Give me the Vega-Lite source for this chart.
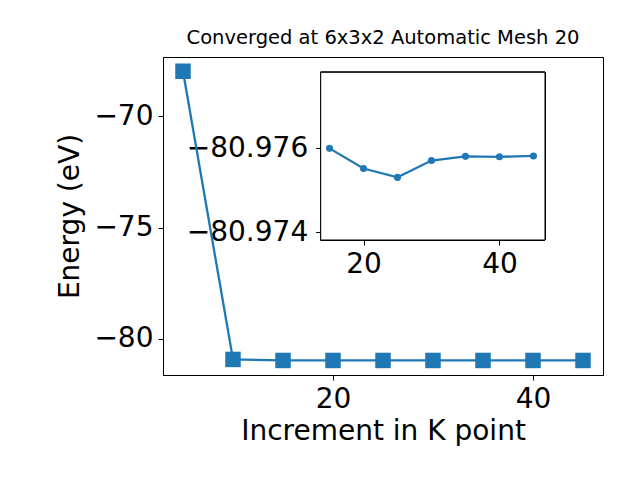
{
  "$schema": "https://vega.github.io/schema/vega-lite/v6.json",
  "width": 440,
  "height": 318,
  "autosize": {"type": "none"},
  "padding": {"left": 163, "top": 57, "right": 37, "bottom": 105},
  "background": "white",
  "title": {"text": "Converged at 6x3x2 Automatic Mesh 20", "fontSize": 19.5, "font": "DejaVu Sans", "fontWeight": "normal", "color": "black", "offset": 9},
  "datasets": {
    "main": [
      {"k": 5, "E": -67.97},
      {"k": 10, "E": -80.93},
      {"k": 15, "E": -80.976},
      {"k": 20, "E": -80.9755},
      {"k": 25, "E": -80.9753},
      {"k": 30, "E": -80.9757},
      {"k": 35, "E": -80.9758},
      {"k": 40, "E": -80.9758},
      {"k": 45, "E": -80.9758}
    ],
    "inset": [
      {"k": 15, "E": -80.97600},
      {"k": 20, "E": -80.97552},
      {"k": 25, "E": -80.97531},
      {"k": 30, "E": -80.97571},
      {"k": 35, "E": -80.97581},
      {"k": 40, "E": -80.97580},
      {"k": 45, "E": -80.97582}
    ]
  },
  "layer": [
    {
      "data": {"name": "main"},
      "encoding": {
        "x": {"field": "k", "type": "quantitative", "scale": {"domain": [3, 47], "nice": false, "zero": false},
              "axis": {"orient": "bottom", "values": [20, 40], "title": "Increment in K point", "labelFontSize": 28, "titleFontSize": 28, "titlePadding": 4}},
        "y": {"field": "E", "type": "quantitative", "scale": {"domain": [-81.63, -67.33], "nice": false, "zero": false},
              "axis": {"orient": "left", "values": [-80, -75, -70], "title": "Energy (eV)", "labelFontSize": 28, "titleFontSize": 28, "titlePadding": 9}}
      },
      "layer": [
        {"mark": {"type": "line", "color": "#1f77b4", "strokeWidth": 2.3}},
        {"mark": {"type": "point", "shape": "square", "filled": true, "opacity": 1, "color": "#1f77b4", "size": 240}}
      ]
    },
    {
      "data": {"name": "inset"},
      "layer": [
        {
          "mark": {"type": "rect", "fill": "white", "stroke": "black", "strokeWidth": 1},
          "encoding": {
            "x": {"datum": 13.7, "type": "quantitative"},
            "x2": {"datum": 46.7},
            "y": {"datum": -80.97781, "type": "quantitative"},
            "y2": {"datum": -80.97382}
          }
        },
        {
          "encoding": {
            "x": {"field": "k", "type": "quantitative"},
            "y": {"field": "E", "type": "quantitative"}
          },
          "layer": [
            {"mark": {"type": "line", "color": "#1f77b4", "strokeWidth": 2.3}},
            {"mark": {"type": "point", "shape": "circle", "filled": true, "opacity": 1, "color": "#1f77b4", "size": 50}}
          ]
        }
      ],
      "encoding": {
        "x": {"type": "quantitative", "scale": {"domain": [13.7, 46.7], "range": [157.7, 382], "nice": false, "zero": false},
              "axis": {"orient": "bottom", "offset": -135, "values": [20, 40], "title": null, "labelFontSize": 28, "domain": false}},
        "y": {"type": "quantitative", "scale": {"domain": [-80.97781, -80.97382], "range": [15.3, 183], "nice": false, "zero": false},
              "axis": {"orient": "left", "offset": -157.7, "values": [-80.976, -80.974], "format": ".3f", "title": null, "labelFontSize": 28, "labelPadding": 8, "domain": false}}
      }
    }
  ],
  "resolve": {"scale": {"x": "independent", "y": "independent"}, "axis": {"x": "independent", "y": "independent"}},
  "config": {
    "view": {"stroke": "black", "strokeWidth": 1},
    "axis": {
      "labelFont": "DejaVu Sans", "titleFont": "DejaVu Sans", "labelColor": "black", "titleColor": "black",
      "titleFontWeight": "normal", "tickColor": "black", "domainColor": "black", "grid": false,
      "tickSize": 5, "tickWidth": 1, "labelPadding": 5, "domainWidth": 1
    }
  }
}
